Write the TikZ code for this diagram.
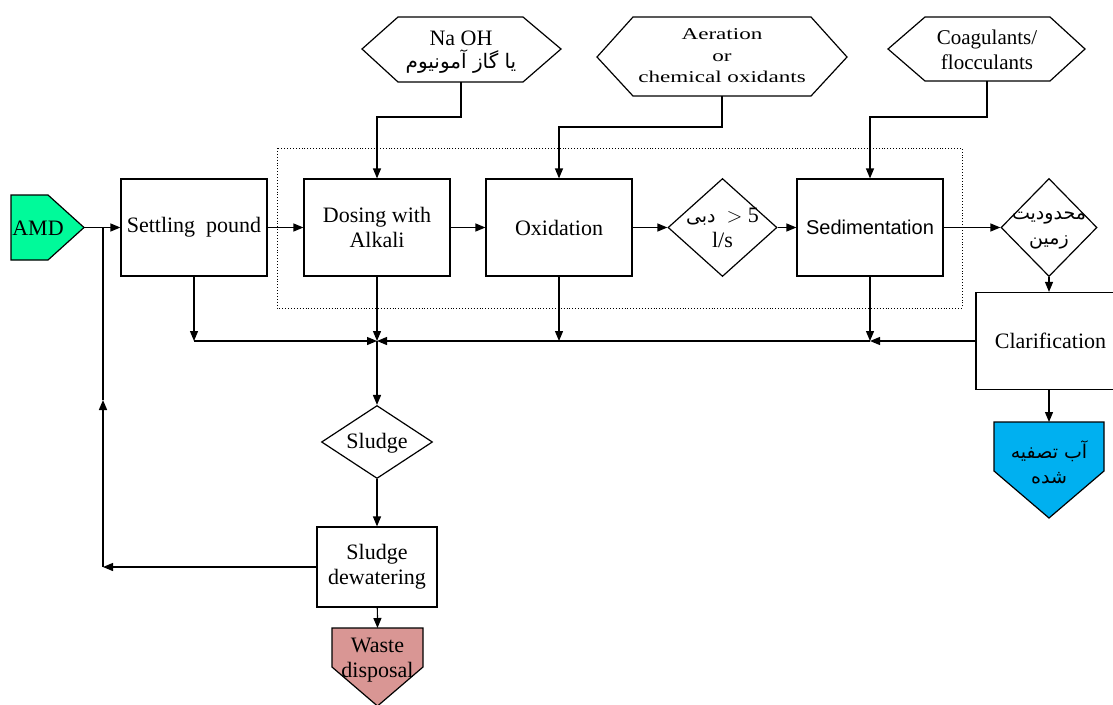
\documentclass[tikz,border=0pt]{standalone}
\usepackage{fontspec}
\setmainfont{Liberation Serif}
\newfontfamily\fasfont[Script=Arabic]{DejaVu Sans}
\newfontfamily\arialf{Liberation Sans}
\TeXXeTstate=1
\usetikzlibrary{arrows.meta,shapes.geometric}

\begin{document}
\begin{tikzpicture}[x=1pt,y=-1pt,line width=1.2pt,
  arr/.style={-{Triangle[length=10pt,width=8pt]}},
  txt/.style={font=\fontsize{22}{25}\selectfont,align=center,inner sep=0pt},
  fa/.style={font=\fontsize{19}{25}\selectfont\fasfont,align=center,inner sep=0pt},
  procbox/.style={draw,rectangle,minimum width=146pt,minimum height=97pt,inner sep=0pt,
    align=center,font=\fontsize{22}{25}\selectfont},
  decision/.style={draw,diamond,inner sep=0pt},
  inputhex/.style={draw,fill=white},
]
\useasboundingbox (0,0) rectangle (1113,704);

% treatment stages grouped inside the dotted frame
\draw[dotted,line width=0.9pt] (277,148) rectangle (962,308);

% source of acid mine drainage
\draw[fill={rgb,255:red,0;green,250;blue,154}] (11,195) -- (48,195) -- (84,227.5) -- (48,260) -- (11,260) -- cycle;
\node[txt] (amd) at (38,228) {AMD};
\coordinate (amdtip) at (84,227.5);

% main process chain
\node[procbox] (set) at (194,227.5) {Settling\ \ pound};
\node[procbox] (dos) at (377,227.5) {Dosing with\\Alkali};
\node[procbox] (oxi) at (559,227.5) {Oxidation};
\node[decision,minimum width=109pt,minimum height=98pt] (q1) at (722.5,227.5) {};
\node[txt] (q1t) at (722.5,228) {{\fasfont\fontsize{19}{19}\selectfont\beginR دبی\endR}\ \ $>$\ 5\\l/s};
\node[procbox,font=\fontsize{20}{24}\selectfont\arialf] (sed) at (870,227.5) {Sedimentation};
\node[decision,minimum width=96pt,minimum height=98pt] (q2) at (1049,227.5) {};
\node[fa] (q2t) at (1049,230) {\beginR محدودیت\endR\\\beginR زمین\endR};
\node[procbox,minimum width=149pt] (cla) at (1050.5,341) {Clarification};

% treated water outlet
\draw[fill={rgb,255:red,0;green,176;blue,240}] (994,422) -- (1104,422) -- (1104,471) -- (1049,518) -- (994,471) -- cycle;
\node[fa] (tw) at (1049,462) {\beginR آب تصفیه\endR\\\beginR شده\endR};
\coordinate (twtop) at (1049,422);

% sludge line
\node[decision,minimum width=111pt,minimum height=73pt] (slu) at (377,442) {};
\node[txt] (slut) at (377,443) {Sludge};
\node[procbox,minimum width=120pt,minimum height=80pt] (dew) at (377,567) {Sludge\\dewatering};
\draw[fill={rgb,255:red,217;green,150;blue,148}] (332,628) -- (423,628) -- (423,667) -- (377.5,706) -- (332,667) -- cycle;
\node[txt] (was) at (377.5,660) {Waste\\disposal};
\coordinate (wastop) at (377.5,628);

% chemical inputs
\draw[inputhex] (362,49) -- (398,17) -- (523,17) -- (561,49) -- (523,82) -- (398,82) -- cycle;
\node[txt] (naoh) at (461,38) {Na OH};
\node[fa,font=\fontsize{20}{24}\selectfont\fasfont] (naohfa) at (461,62) {\beginR یا گاز آمونیوم\endR};
\coordinate (h1) at (461,82);

\draw[inputhex] (597,57) -- (633,17) -- (811,17) -- (847,57) -- (811,96) -- (633,96) -- cycle;
\node[txt,font=\fontsize{16.5}{21.5}\selectfont] (aer) at (722,56) {\scalebox{1.4}[1]{Aeration}\\\scalebox{1.4}[1]{or}\\\scalebox{1.4}[1]{chemical oxidants}};
\coordinate (h2) at (722,96);

\draw[inputhex] (888,49) -- (925,17) -- (1050,17) -- (1085,49) -- (1050,81) -- (925,81) -- cycle;
\node[txt,font=\fontsize{21}{25}\selectfont] (coa) at (987,50) {Coagulants/\\flocculants};
\coordinate (h3) at (987,81);

% dosing connectors
\draw[arr] (h1) -- (461,117) -| (dos.north);
\draw[arr] (h2) -- (722,127) -| (oxi.north);
\draw[arr] (h3) -- (987,117) -| (sed.north);

% forward flow
\draw[arr] (amdtip) -- (set.west);
\draw[arr] (set) -- (dos);
\draw[arr] (dos) -- (oxi);
\draw[arr] (oxi) -- (q1.west);
\draw[arr] (q1.east) -- (sed);
\draw[arr] (sed) -- (q2.west);
\draw[arr] (q2.south) -- (q2.south |- cla.north);
\draw[arr] (q2.south |- cla.south) -- (twtop);

% sludge collection
\coordinate (jS) at (194,341);
\coordinate (jD) at (377,341);
\coordinate (jO) at (559,341);
\coordinate (jE) at (870,341);
\draw[arr] (set.south) -- (jS);
\draw[arr] (jS) -- (jD);
\draw[arr] (dos) -- (jD);
\draw[arr] (oxi.south) -- (jO);
\draw[arr] (sed.south) -- (jE);
\draw[arr] (cla.west) -- (jE);
\draw[arr] (jE) -- (jD);
\draw[arr,line width=1.6pt] (jD) -- (slu.north);
\draw[arr] (slu) -- (dew);
\draw[arr] (dew) -- (wastop);

% filtrate returned to the inlet
\coordinate (fb) at (103,567);
\coordinate (fm) at (103,400);
\coordinate (fj) at (103,227.5);
\draw[arr] (dew.west) -- (fb);
\draw[arr,line width=1.6pt] (fb) -- (fm);
\draw[line width=1.6pt] (fm) -- (fj);
\end{tikzpicture}
\end{document}
